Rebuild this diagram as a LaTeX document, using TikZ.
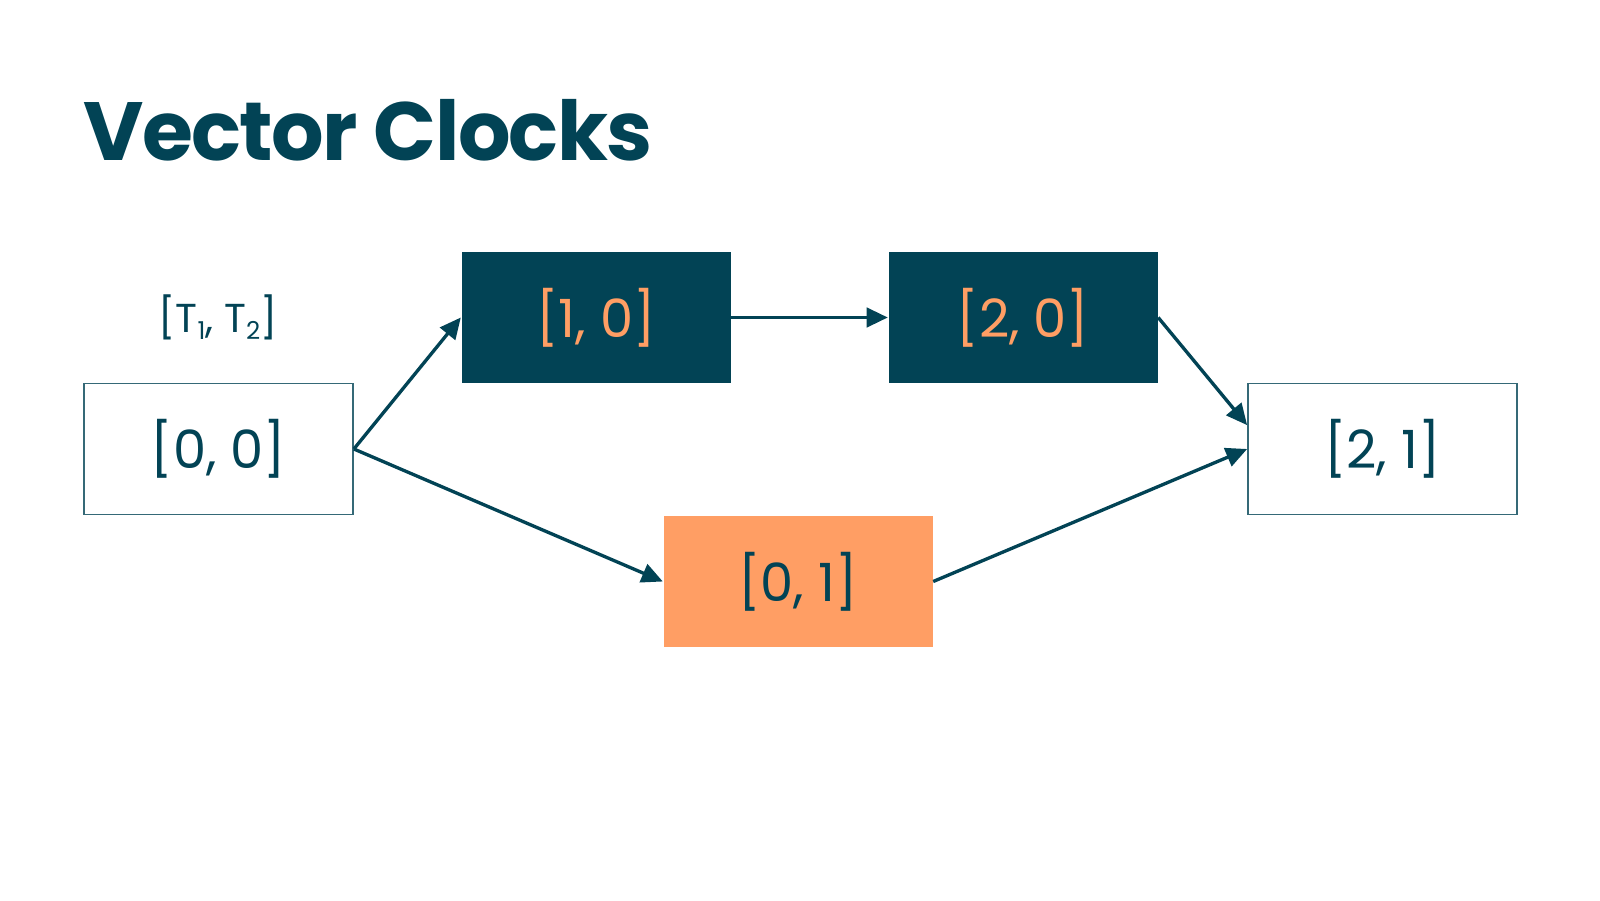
\documentclass[tikz,border=0pt]{standalone}
\usepackage{fontspec}
\setmainfont{Poppins}
\usetikzlibrary{arrows.meta}
\definecolor{vcdark}{RGB}{2,67,85}
\definecolor{vcorange}{RGB}{255,158,100}
\newcommand{\tsub}[1]{\raisebox{-0.35ex}{\fontsize{7}{8}\selectfont #1}}
\begin{document}
\begin{tikzpicture}[
  clockbox/.style={rectangle, inner sep=0pt, minimum width=2.69cm, minimum height=1.31cm,
    font=\fontsize{15}{17}\selectfont},
  plain/.style={clockbox, draw=vcdark!80, line width=0.5pt, fill=white, text=vcdark},
  dark/.style={clockbox, fill=vcdark, text=vcorange},
  hot/.style={clockbox, fill=vcorange, text=vcdark},
  tick/.style={-{Triangle[length=6pt,width=5.5pt]}, line width=0.95pt, vcdark}]
  \useasboundingbox (0,0) rectangle (16,9);
  % title
  \node[anchor=base west, inner sep=0pt, text=vcdark, font=\fontsize{23.5}{27}\selectfont\bfseries\addfontfeatures{LetterSpace=-2}] (title) at (0.83,7.40) {Vector Clocks};
  % legend
  \node[text=vcdark, font=\fontsize{11.5}{13}\selectfont] (legend) at (2.18,5.83) {[T\tsub{1}, T\tsub{2}]};
  % clocks
  \node[plain] (c00) at (2.185,4.51) {[0, 0]};
  \node[dark]  (c10) at (5.96,5.825) {[1, 0]};
  \node[dark]  (c20) at (10.23,5.825) {[2, 0]};
  \node[hot]   (c01) at (7.98,3.185) {[0, 1]};
  \node[plain] (c21) at (13.825,4.51) {[2, 1]};
  % causal edges
  \draw[tick] (c00.east) -- (c10.west);
  \draw[tick] (c00.east) -- (c01.west);
  \draw[tick] (c10.east) -- (c20.west);
  \draw[tick] (c20.east) -- (c21.170);
  \draw[tick] (c01.east) -- (c21.west);
\end{tikzpicture}
\end{document}
